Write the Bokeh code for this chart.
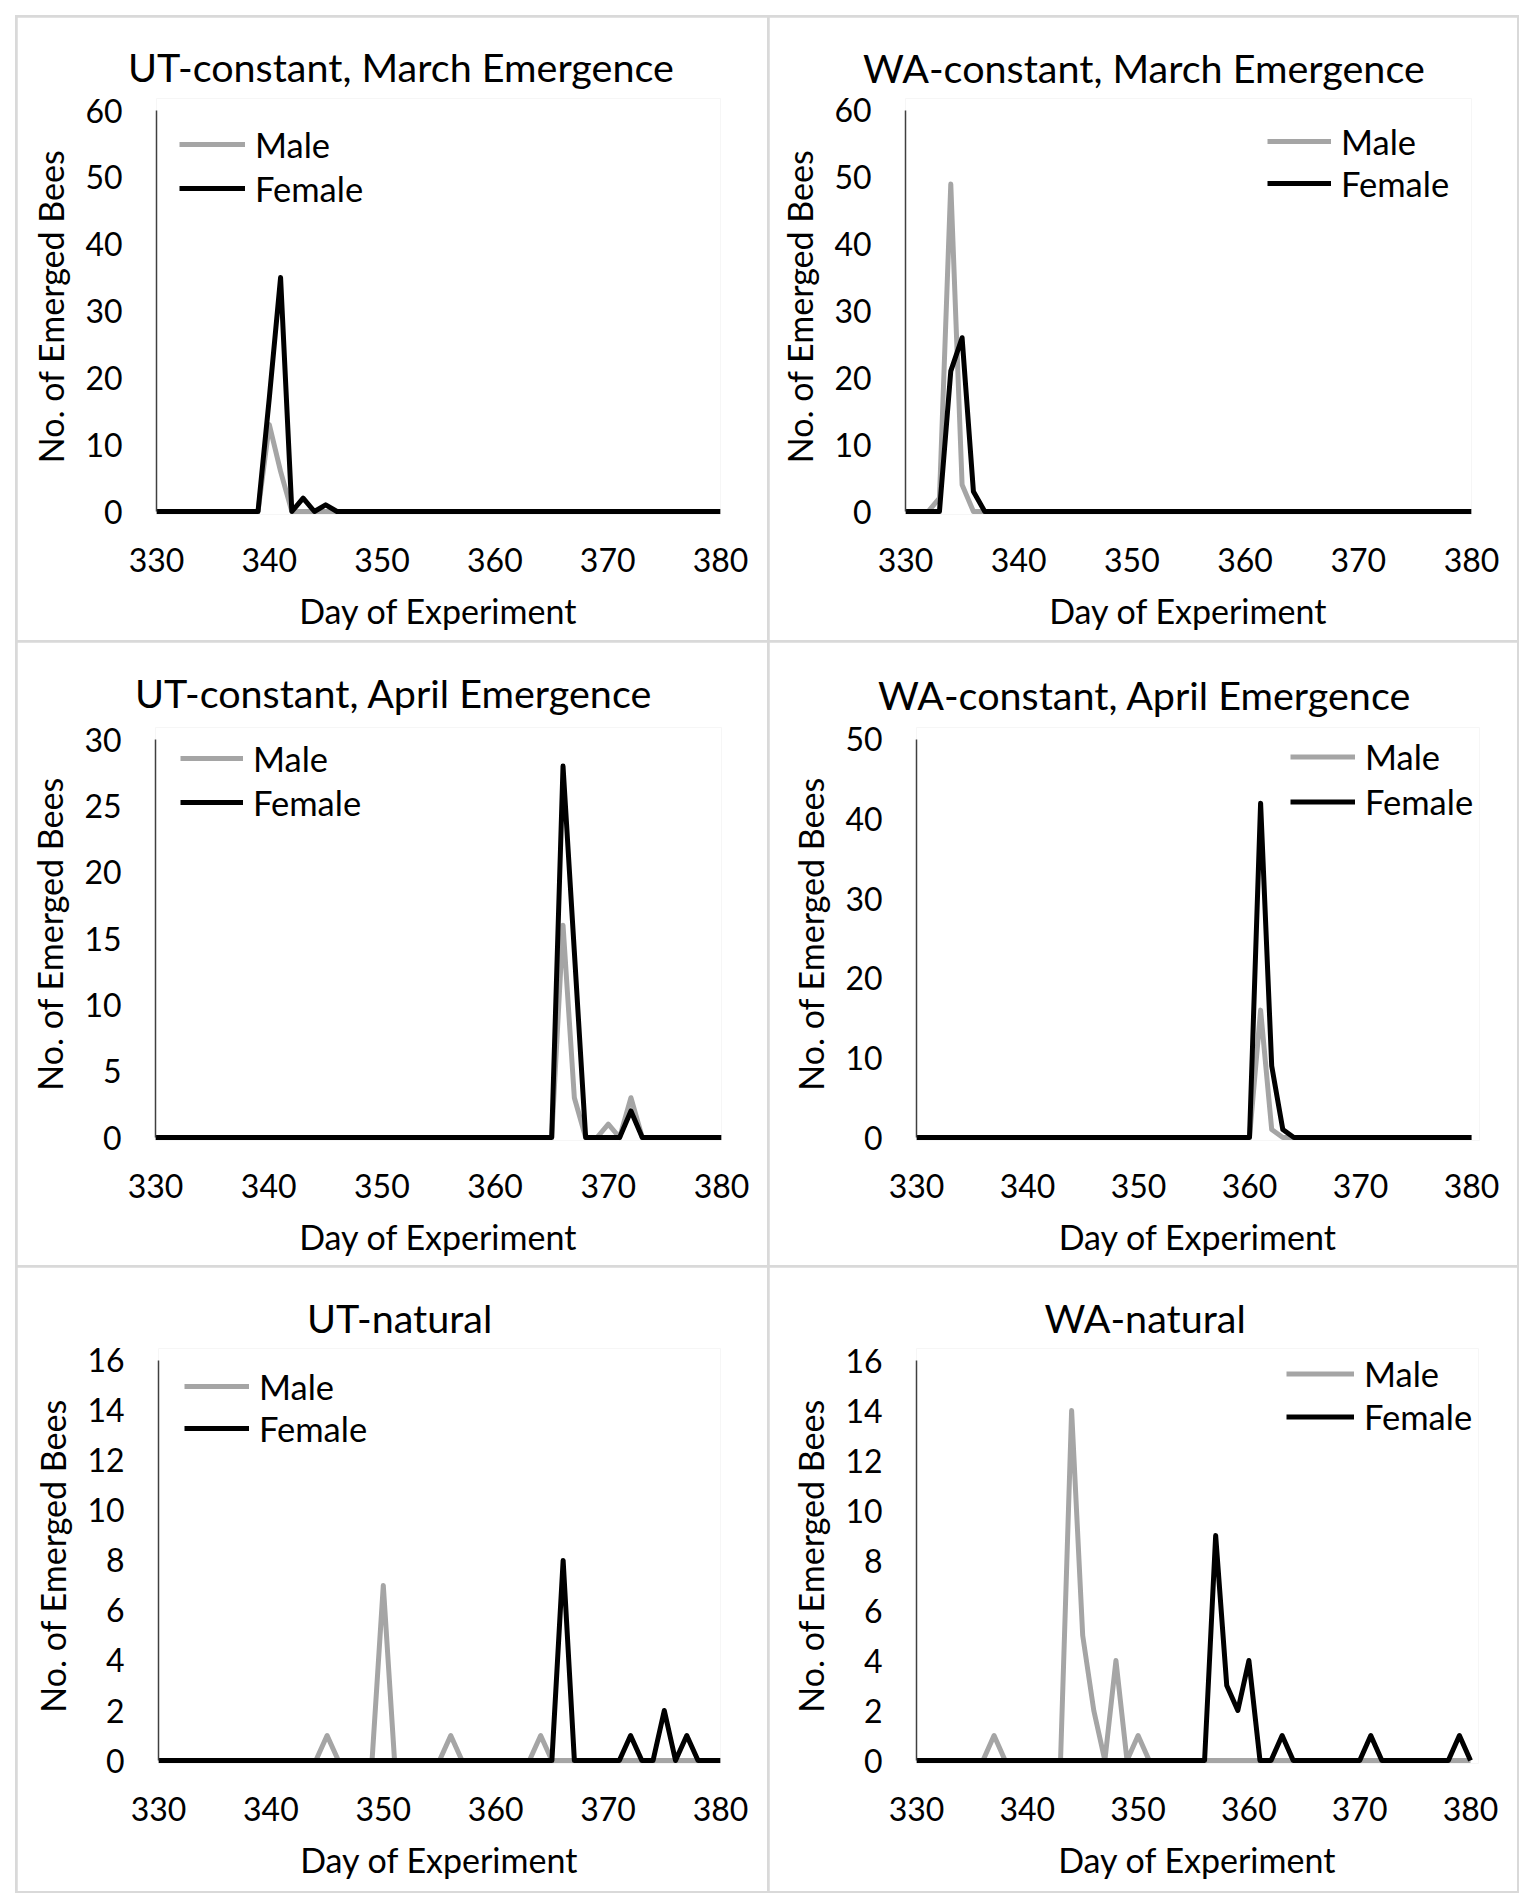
from bokeh.plotting import figure
from bokeh.layouts import column, row, Spacer
from bokeh.models import Range1d, FixedTicker, Legend, LegendItem
from bokeh.embed import file_html
from bokeh.resources import INLINE

# ---------------- data ----------------
DAYS = list(range(330, 381))
X_TICKS = [330, 340, 350, 360, 370, 380]

TITLES = [
    "UT-constant, March Emergence",
    "WA-constant, March Emergence",
    "UT-constant, April Emergence",
    "WA-constant, April Emergence",
    "UT-natural",
    "WA-natural",
]

# non-zero counts per day; every other day of 330-380 is 0
ut_march_male = {340: 13, 341: 6}
ut_march_female = {340: 17, 341: 35, 343: 2, 345: 1}
wa_march_male = {333: 2, 334: 49, 335: 4}
wa_march_female = {334: 21, 335: 26, 336: 3}
ut_april_male = {366: 16, 367: 3, 370: 1, 372: 3}
ut_april_female = {366: 28, 367: 14, 372: 2}
wa_april_male = {361: 16, 362: 1}
wa_april_female = {361: 42, 362: 9, 363: 1}
ut_natural_male = {345: 1, 350: 7, 356: 1, 364: 1}
ut_natural_female = {366: 8, 372: 1, 375: 2, 377: 1}
wa_natural_male = {337: 1, 344: 14, 345: 5, 346: 2, 348: 4, 350: 1}
wa_natural_female = {357: 9, 358: 3, 359: 2, 360: 4, 363: 1, 371: 1, 379: 1}

Y_MAX = [60, 60, 30, 50, 16, 16]
Y_STEP = [10, 10, 5, 10, 2, 2]

MALE_COLOR = "#a5a5a5"
FEMALE_COLOR = "#000000"
FONT = "Lato"
TITLE_SIZE = 39.5
# approximate rendered width of each title at TITLE_SIZE (used to centre it on the panel)
TITLE_W = [543, 561, 515, 531, 183, 198]


def series(counts):
    return [counts.get(d, 0) for d in DAYS]


def make_panel(i, male, female, W, H, ml, mt, mr, mz, leg_x, leg_top, leg_row, glyph_w,
               title_gap, title_dx, ext_r):
    pad = 3        # px between the zero line and the bottom of the frame
    ext_t = 12     # empty room above the top tick (keeps legend text inside the frame)
    mb = mz - pad
    fh = H - mt - mb
    fw = W - ml - mr
    ymax = Y_MAX[i]
    upp = ymax / (fh - pad)
    p = figure(width=W, height=H, output_backend="svg", toolbar_location=None,
               x_range=Range1d(330, 380 + ext_r * 50 / fw),
               y_range=Range1d(-pad * upp, ymax + ext_t * upp),
               min_border_left=ml, min_border_right=mr - ext_r,
               min_border_top=mt - ext_t, min_border_bottom=mb)
    p.background_fill_color = "white"
    p.border_fill_color = "white"
    p.outline_line_color = None
    p.xgrid.visible = False
    p.ygrid.visible = False

    p.xaxis.ticker = FixedTicker(ticks=X_TICKS)
    p.yaxis.ticker = FixedTicker(ticks=list(range(0, ymax + 1, Y_STEP[i])))
    p.xaxis.bounds = (330, 380)
    p.yaxis.bounds = (0, ymax)
    for ax in (p.xaxis[0], p.yaxis[0]):
        ax.major_tick_line_color = None
        ax.minor_tick_line_color = None
        ax.major_label_text_font = FONT
        ax.major_label_text_font_size = "32px"
        ax.major_label_text_color = "black"
        ax.axis_label_text_font = FONT
        ax.axis_label_text_font_size = "34px"
        ax.axis_label_text_font_style = "normal"
        ax.axis_label_text_color = "black"
    p.xaxis.axis_label = "Day of Experiment"
    p.yaxis.axis_label = "No. of Emerged Bees"
    p.xaxis.axis_line_color = None
    p.yaxis.axis_line_color = "#404040"
    p.yaxis.axis_line_width = 1.5
    p.xaxis.major_label_standoff = 27
    p.xaxis.axis_label_standoff = 15
    p.yaxis.major_label_standoff = 28
    p.yaxis.axis_label_standoff = 11

    rm = p.line(DAYS, series(male), line_color=MALE_COLOR, line_width=5, line_join="round")
    rf = p.line(DAYS, series(female), line_color=FEMALE_COLOR, line_width=5, line_join="round")

    legend = Legend(items=[LegendItem(label="Male", renderers=[rm]),
                           LegendItem(label="Female", renderers=[rf])],
                    location=(leg_x, fh - leg_top - 2 * leg_row),
                    orientation="vertical", glyph_width=glyph_w, glyph_height=leg_row,
                    label_height=leg_row, spacing=0, padding=0, margin=0,
                    label_standoff=10, border_line_color=None, background_fill_alpha=0,
                    label_text_font=FONT, label_text_font_size="34.5px",
                    label_text_color="black")
    p.add_layout(legend)

    # panel title, centred over the whole panel (not only over the plot frame)
    p.title.text = TITLES[i]
    p.title.align = "left"
    p.title.offset = W / 2 - TITLE_W[i] / 2 - ml + title_dx
    p.title.text_font = FONT
    p.title.text_font_size = f"{TITLE_SIZE}px"
    p.title.text_font_style = "normal"
    p.title.text_color = "black"
    # the title's text bottom sits standoff/2 above the frame top
    p.title.standoff = max(0.0, 2 * (title_gap - ext_t - 20.2))
    return p


COL_W = [750, 748]
ROW_H = [623, 623, 624]

p1 = make_panel(0, ut_march_male, ut_march_female, COL_W[0], ROW_H[0], 139, 93, 47, 129, 23, 12, 44, 66, 40.8, 7, 0)
p2 = make_panel(1, wa_march_male, wa_march_female, COL_W[1], ROW_H[0], 136, 92, 46, 129, 362, 11, 42, 64, 39.8, 0, 0)
p3 = make_panel(2, ut_april_male, ut_april_female, COL_W[0], ROW_H[1], 138, 97, 46, 128, 25, -3, 44, 63, 43.7, 0, 0)
p4 = make_panel(3, wa_april_male, wa_april_female, COL_W[1], ROW_H[1], 147, 95, 46, 128, 374, -3, 45, 65, 41.7, 0, 8)
p5 = make_panel(4, ut_natural_male, ut_natural_female, COL_W[0], ROW_H[2], 141, 93, 47, 130, 26, 6, 42, 65, 39.8, 6, 0)
p6 = make_panel(5, wa_natural_male, wa_natural_female, COL_W[1], ROW_H[2], 147, 93, 47, 131, 370, -8, 43, 68, 39.8, 0, 8)

grid = column(row(p1, p2, spacing=2), row(p3, p4, spacing=2), row(p5, p6, spacing=2), spacing=2)
framed = column(Spacer(height=2),
                row(Spacer(width=2), grid, Spacer(width=2)),
                Spacer(height=2),
                styles={"background-color": "#d9d9d9"})
page = column(Spacer(height=15), row(Spacer(width=15), framed))

open("out.html", "w").write(file_html(page, INLINE))
